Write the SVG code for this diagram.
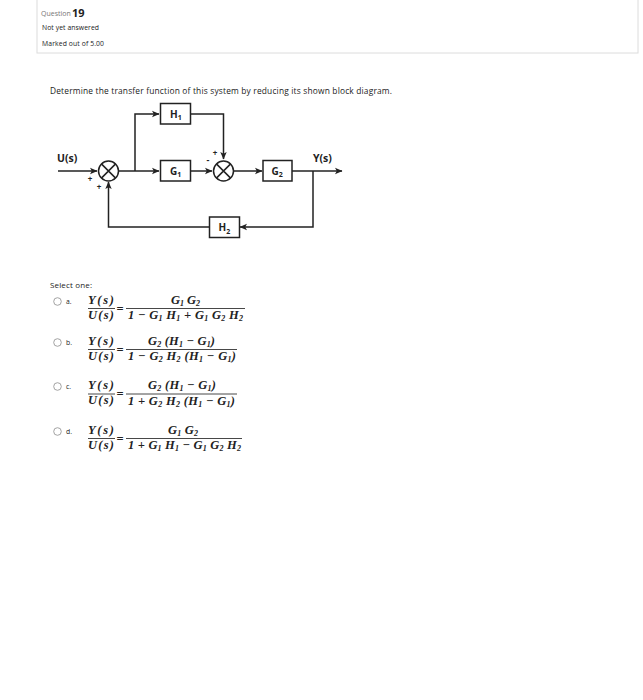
<svg xmlns="http://www.w3.org/2000/svg" width="643" height="700" viewBox="0 0 643 700">
<defs>
<marker id="arr" markerWidth="8" markerHeight="8" refX="7" refY="4" orient="auto" markerUnits="userSpaceOnUse">
<path d="M0,0.8 L7.5,4 L0,7.2 L1.8,4 Z" fill="#222"/>
</marker>
<style>
.ui{font-family:"Open Sans","Noto Sans",sans-serif;fill:#222}
.lbl{font-family:"Open Sans","DejaVu Sans",sans-serif;font-weight:bold;fill:#222}
.m{font-family:"Liberation Serif",serif;font-weight:bold;font-style:italic;fill:#222;font-size:12.5px}
.n{font-style:normal}
.ln{stroke:#222;stroke-width:1.5;fill:none}
.box{stroke:#222;stroke-width:1.5;fill:#fff}
.bar{stroke:#333;stroke-width:0.9}
.radio{fill:#fff;stroke:#999;stroke-width:0.9}
</style>
</defs>
<rect width="643" height="700" fill="#fff"/>
<g id="header">
<rect x="37" y="-1" width="601" height="54" fill="#fff" stroke="#dcdcdc" stroke-width="1"/>
<text class="ui" x="41" y="16" font-size="7" style="fill:#777">Question</text>
<text class="ui" x="72" y="16.5" font-size="11" font-weight="bold">19</text>
<text class="ui" x="42" y="30" font-size="6.8" textLength="57">Not yet answered</text>
<text class="ui" x="42" y="45.5" font-size="6.8" textLength="62">Marked out of 5.00</text>
</g>
<text class="ui" x="50" y="94" font-size="8.4" textLength="342">Determine the transfer function of this system by reducing its shown block diagram.</text>
<g id="connectors">
<line class="ln" x1="58" y1="171" x2="97" y2="171" marker-end="url(#arr)"/>
<line class="ln" x1="119" y1="171" x2="159" y2="171" marker-end="url(#arr)"/>
<polyline class="ln" points="135,171 135,114 159,114" marker-end="url(#arr)"/>
<polyline class="ln" points="191,114 223.5,114 223.5,159" marker-end="url(#arr)"/>
<line class="ln" x1="191" y1="171" x2="212" y2="171" marker-end="url(#arr)"/>
<line class="ln" x1="234" y1="171" x2="262" y2="171" marker-end="url(#arr)"/>
<line class="ln" x1="292" y1="171" x2="342" y2="171" marker-end="url(#arr)"/>
<polyline class="ln" points="313,171 313,227 240,227" marker-end="url(#arr)"/>
<polyline class="ln" points="209,227 108.5,227 108.5,182" marker-end="url(#arr)"/>
</g>
<g id="U">
<text class="lbl" x="57" y="162" font-size="10.5">U(s)</text>
</g>
<g id="Y">
<text class="lbl" x="313" y="162" font-size="10.5">Y(s)</text>
</g>
<g id="sum1">
<circle class="box" cx="108.5" cy="171" r="10"/>
<path class="ln" d="M101.4,163.9 L115.6,178.1 M115.6,163.9 L101.4,178.1"/>
<text class="lbl" x="90" y="182" font-size="8" text-anchor="middle">+</text>
<text class="lbl" x="99" y="190" font-size="8" text-anchor="middle">+</text>
</g>
<g id="sum2">
<circle class="box" cx="223.5" cy="171" r="10"/>
<path class="ln" d="M216.4,163.9 L230.6,178.1 M230.6,163.9 L216.4,178.1"/>
<text class="lbl" x="215" y="156" font-size="8" text-anchor="middle">+</text>
<text class="lbl" x="208" y="163" font-size="9" text-anchor="middle">-</text>
</g>
<g id="H1">
<rect class="box" x="160.5" y="103.5" width="30" height="20.5"/>
<text class="lbl" x="170" y="117.5" font-size="10">H<tspan font-size="7" dy="2.5">1</tspan></text>
</g>
<g id="G1">
<rect class="box" x="160.5" y="160.5" width="30" height="20.5"/>
<text class="lbl" x="170" y="174.5" font-size="10">G<tspan font-size="7" dy="2.5">1</tspan></text>
</g>
<g id="G2">
<rect class="box" x="263" y="160.5" width="29" height="20.5"/>
<text class="lbl" x="271.5" y="174.5" font-size="10">G<tspan font-size="7" dy="2.5">2</tspan></text>
</g>
<g id="H2">
<rect class="box" x="209.5" y="217" width="30" height="20.5"/>
<text class="lbl" x="218.5" y="231" font-size="10">H<tspan font-size="7" dy="2.5">2</tspan></text>
</g>
<text class="ui" x="50" y="288" font-size="8" textLength="42">Select one:</text>
<g id="optA">
<circle class="radio" cx="57.5" cy="301.5" r="3.8"/>
<text class="ui" x="66" y="304" font-size="6.8">a.</text>
<text class="m" x="88" y="303.5" textLength="26">Y(s)</text>
<line class="bar" x1="88" y1="308.5" x2="115" y2="308.5"/>
<text class="m" x="88" y="318.5" textLength="26">U(s)</text>
<text class="m n" x="120" y="312.5" text-anchor="middle" font-size="10">=</text>
<line class="bar" x1="126" y1="308.5" x2="245" y2="308.5"/>
<text class="m" x="171" y="304" textLength="29">G<tspan font-size="8" dy="2">1</tspan><tspan dy="-2"> G</tspan><tspan font-size="8" dy="2">2</tspan></text>
<text class="m" x="128" y="319" textLength="115">1<tspan> − G</tspan><tspan font-size="8" dy="2">1</tspan><tspan dy="-2"> H</tspan><tspan font-size="8" dy="2">1</tspan><tspan dy="-2"> + G</tspan><tspan font-size="8" dy="2">1</tspan><tspan dy="-2"> G</tspan><tspan font-size="8" dy="2">2</tspan><tspan dy="-2"> H</tspan><tspan font-size="8" dy="2">2</tspan></text>
</g>
<g id="optB">
<circle class="radio" cx="57.5" cy="342.5" r="3.8"/>
<text class="ui" x="66" y="345" font-size="6.8">b.</text>
<text class="m" x="88" y="344.5" textLength="26">Y(s)</text>
<line class="bar" x1="88" y1="349.5" x2="115" y2="349.5"/>
<text class="m" x="88" y="359.5" textLength="26">U(s)</text>
<text class="m n" x="120" y="353.5" text-anchor="middle" font-size="10">=</text>
<line class="bar" x1="126" y1="349.5" x2="237" y2="349.5"/>
<text class="m" x="148" y="344.5" textLength="67">G<tspan font-size="8" dy="2">2</tspan><tspan dy="-2"> (H</tspan><tspan font-size="8" dy="2">1</tspan><tspan dy="-2"> − G</tspan><tspan font-size="8" dy="2">1</tspan><tspan dy="-2">)</tspan></text>
<text class="m" x="128" y="360" textLength="108">1<tspan> − G</tspan><tspan font-size="8" dy="2">2</tspan><tspan dy="-2"> H</tspan><tspan font-size="8" dy="2">2</tspan><tspan dy="-2"> (H</tspan><tspan font-size="8" dy="2">1</tspan><tspan dy="-2"> − G</tspan><tspan font-size="8" dy="2">1</tspan><tspan dy="-2">)</tspan></text>
</g>
<g id="optC">
<circle class="radio" cx="57.5" cy="386.5" r="3.8"/>
<text class="ui" x="66" y="389" font-size="6.8">c.</text>
<text class="m" x="88" y="389" textLength="26">Y(s)</text>
<line class="bar" x1="88" y1="394" x2="115" y2="394"/>
<text class="m" x="88" y="404" textLength="26">U(s)</text>
<text class="m n" x="120" y="398" text-anchor="middle" font-size="10">=</text>
<line class="bar" x1="126" y1="394" x2="237" y2="394"/>
<text class="m" x="148" y="389" textLength="68">G<tspan font-size="8" dy="2">2</tspan><tspan dy="-2"> (H</tspan><tspan font-size="8" dy="2">1</tspan><tspan dy="-2"> − G</tspan><tspan font-size="8" dy="2">1</tspan><tspan dy="-2">)</tspan></text>
<text class="m" x="128" y="404.5" textLength="107">1<tspan> + G</tspan><tspan font-size="8" dy="2">2</tspan><tspan dy="-2"> H</tspan><tspan font-size="8" dy="2">2</tspan><tspan dy="-2"> (H</tspan><tspan font-size="8" dy="2">1</tspan><tspan dy="-2"> − G</tspan><tspan font-size="8" dy="2">1</tspan><tspan dy="-2">)</tspan></text>
</g>
<g id="optD">
<circle class="radio" cx="57.5" cy="431.5" r="3.8"/>
<text class="ui" x="66" y="434" font-size="6.8">d.</text>
<text class="m" x="88" y="433.5" textLength="26">Y(s)</text>
<line class="bar" x1="88" y1="438.5" x2="115" y2="438.5"/>
<text class="m" x="88" y="448.5" textLength="26">U(s)</text>
<text class="m n" x="120" y="442.5" text-anchor="middle" font-size="10">=</text>
<line class="bar" x1="126" y1="438.5" x2="242" y2="438.5"/>
<text class="m" x="168" y="434" textLength="30">G<tspan font-size="8" dy="2">1</tspan><tspan dy="-2"> G</tspan><tspan font-size="8" dy="2">2</tspan></text>
<text class="m" x="128" y="449" textLength="113">1<tspan> + G</tspan><tspan font-size="8" dy="2">1</tspan><tspan dy="-2"> H</tspan><tspan font-size="8" dy="2">1</tspan><tspan dy="-2"> − G</tspan><tspan font-size="8" dy="2">1</tspan><tspan dy="-2"> G</tspan><tspan font-size="8" dy="2">2</tspan><tspan dy="-2"> H</tspan><tspan font-size="8" dy="2">2</tspan></text>
</g>
</svg>
